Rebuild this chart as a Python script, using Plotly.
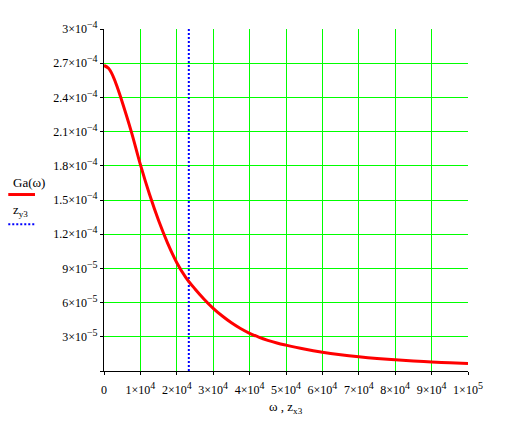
import plotly.graph_objects as go

# Ga(omega) curve, values
omega = [0, 1250, 2500, 3750, 5000, 7500, 10000, 12500, 15000, 17500, 20000,
         22500, 25000, 27500, 30000, 32500, 35000, 37500, 40000, 42500, 45000,
         47500, 50000, 55000, 60000, 65000, 70000, 75000, 80000, 85000, 90000,
         95000, 100000]
Ga = [2.68e-4, 2.655e-4, 2.585e-4, 2.48e-4, 2.36e-4, 2.10e-4, 1.81e-4,
      1.55e-4, 1.32e-4, 1.12e-4, 9.5e-5, 8.2e-5, 7.2e-5, 6.3e-5, 5.5e-5,
      4.82e-5, 4.23e-5, 3.73e-5, 3.31e-5, 2.97e-5, 2.69e-5, 2.46e-5, 2.27e-5,
      1.93e-5, 1.65e-5, 1.43e-5, 1.25e-5, 1.10e-5, 9.8e-6, 8.8e-6, 7.95e-6,
      7.2e-6, 6.55e-6]

# vertical marker z
zx3 = [23300, 23300]
zy3 = [0, 3e-4]

SUP = "<sup><span style='font-size:10px'>{}</span></sup>"
x_tickvals = [0, 1e4, 2e4, 3e4, 4e4, 5e4, 6e4, 7e4, 8e4, 9e4, 1e5]
x_ticktext = ["0"] + [f"{i}×10" + SUP.format("4") for i in range(1, 10)] + ["1×10" + SUP.format("5")]
y_tickvals = [0, 3e-5, 6e-5, 9e-5, 1.2e-4, 1.5e-4, 1.8e-4, 2.1e-4, 2.4e-4, 2.7e-4, 3e-4]
y_mant = ["", "3", "6", "9", "1.2", "1.5", "1.8", "2.1", "2.4", "2.7", "3"]
y_exp = ["", "−5", "−5", "−5", "−4", "−4", "−4", "−4", "−4", "−4", "−4"]
y_ticktext = [("" if m == "" else f"{m}×10" + SUP.format(e)) for m, e in zip(y_mant, y_exp)]

FONT = "Liberation Serif, Times New Roman, serif"

fig = go.Figure()
fig.add_trace(go.Scatter(x=zx3, y=zy3, mode="lines",
                         line=dict(color="#0000ff", width=2, dash="2px,2px"),
                         hoverinfo="skip"))
fig.add_trace(go.Scatter(x=omega, y=Ga, mode="lines",
                         line=dict(color="#ff0000", width=3, shape="spline",
                                   smoothing=1.0),
                         hoverinfo="skip"))

axis_common = dict(showline=True, linecolor="black", linewidth=1,
                   ticks="outside", ticklen=3, tickcolor="black",
                   showgrid=True, gridcolor="#00ff00", gridwidth=1,
                   zeroline=False, mirror=False,
                   tickfont=dict(family=FONT, size=12, color="black"))

fig.update_xaxes(range=[0, 1e5], tickmode="array", tickvals=x_tickvals,
                 ticktext=x_ticktext, ticklabelstandoff=5, **axis_common)
fig.update_yaxes(range=[0, 3e-4], tickmode="array", tickvals=y_tickvals,
                 ticktext=y_ticktext, **axis_common)

fig.add_annotation(xref="paper", yref="paper", x=0.5, y=-0.108,
                   text="ω , z<sub>x3</sub>", showarrow=False,
                   font=dict(family=FONT, size=13, color="black"),
                   xanchor="center", yanchor="middle")
fig.add_annotation(xref="paper", yref="paper", x=-0.2555, y=0.550,
                   text="Ga(ω)", showarrow=False,
                   font=dict(family=FONT, size=13, color="black"),
                   xanchor="left", yanchor="middle")
fig.add_annotation(xref="paper", yref="paper", x=-0.2555, y=0.469,
                   text="z<sub>y3</sub>", showarrow=False,
                   font=dict(family=FONT, size=13, color="black"),
                   xanchor="left", yanchor="middle")
fig.add_shape(type="line", xref="paper", yref="paper",
              x0=-0.263, x1=-0.1896, y0=0.516, y1=0.516,
              line=dict(color="#ff0000", width=3))
fig.add_shape(type="line", xref="paper", yref="paper",
              x0=-0.263, x1=-0.1896, y0=0.429, y1=0.429,
              line=dict(color="#0000ff", width=2, dash="2px,2px"))

# page body has an 8px default margin, so the figure is sized to fit
fig.update_layout(width=506, height=422, showlegend=False,
                  paper_bgcolor="white", plot_bgcolor="white",
                  margin=dict(l=96, r=46, t=11, b=59),
                  hovermode=False)

fig.write_html("out.html")
